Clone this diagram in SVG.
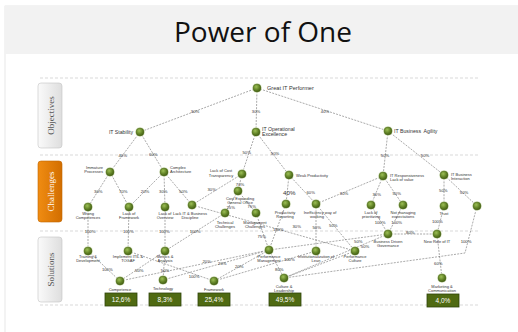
<svg xmlns="http://www.w3.org/2000/svg" width="518" height="332" viewBox="0 0 518 332">
  <defs>
    <radialGradient id="ball" cx="0.4" cy="0.35" r="0.7">
      <stop offset="0" stop-color="#9cbf55"/>
      <stop offset="0.6" stop-color="#5e7f24"/>
      <stop offset="1" stop-color="#3f5a12"/>
    </radialGradient>
    <linearGradient id="tabGray" x1="0" y1="0" x2="1" y2="0">
      <stop offset="0" stop-color="#fafafa"/>
      <stop offset="1" stop-color="#dedede"/>
    </linearGradient>
    <linearGradient id="tabOrange" x1="0" y1="0" x2="1" y2="0">
      <stop offset="0" stop-color="#f08c12"/>
      <stop offset="1" stop-color="#d26e00"/>
    </linearGradient>
    <g id="node">
      <circle r="5" fill="#dfe8cc" opacity="0.8"/>
      <circle r="4" fill="url(#ball)" stroke="#4a6516" stroke-width="0.4"/>
    </g>
  </defs>
  <style>
    .title { font-family: "Open Sans", "Liberation Sans", sans-serif; font-size: 28px; fill: #111; }
    .sep { stroke: #cfcfcf; stroke-width: 0.8; stroke-dasharray: 3 2; fill: none; }
    .tab { stroke: #c4c4c4; stroke-width: 0.6; }
    .tabtxt { font-family: "Liberation Serif", serif; font-size: 9px; fill: #555; }
    .c { stroke: #707070; stroke-width: 0.6; stroke-dasharray: 2 1.2; fill: none; }
    .lbl { font-family: "Liberation Sans", Arial, sans-serif; font-size: 4px; fill: #333; }
    .lbl5 { font-family: "Liberation Sans", Arial, sans-serif; font-size: 5.2px; fill: #333; }
    .el { font-family: "Liberation Sans", Arial, sans-serif; font-size: 4.2px; fill: #333; text-anchor: middle; }
    .mid { text-anchor: middle; }
    .end { text-anchor: end; }
    .box { fill: #4f6a12; stroke: #2f440a; stroke-width: 0.8; }
    .boxtxt { font-family: "Liberation Sans", Arial, sans-serif; font-size: 6.5px; fill: #ffffff; text-anchor: middle; }
  </style>

  <!-- slide frame and title band -->
  <rect x="5" y="6" width="520" height="330" fill="#ffffff" stroke="#e2e2e2" stroke-width="0.8"/>
  <rect x="5" y="6" width="520" height="48" fill="#f2f2f2"/>
  <text class="title" x="263" y="41.5" text-anchor="middle">Power of One</text>

  <!-- level separators -->
  <g id="separators">
    <line class="sep" x1="40" y1="78" x2="480" y2="78"/>
    <line class="sep" x1="40" y1="155" x2="480" y2="155"/>
    <line class="sep" x1="40" y1="231" x2="480" y2="231"/>
    <line class="sep" x1="40" y1="305" x2="480" y2="305"/>
  </g>

  <!-- level tabs -->
  <g id="tab-objectives">
    <rect class="tab" x="38" y="83" width="24" height="65" rx="3" fill="url(#tabGray)"/>
    <text class="tabtxt" transform="translate(53.5 115.5) rotate(-90)" text-anchor="middle">Objectives</text>
  </g>
  <g id="tab-challenges">
    <rect x="38" y="161" width="24" height="61" rx="3" fill="url(#tabOrange)" stroke="#c06400" stroke-width="0.6"/>
    <text class="tabtxt" transform="translate(53.5 191.5) rotate(-90)" text-anchor="middle" style="fill:#ffffff">Challenges</text>
  </g>
  <g id="tab-solutions">
    <rect class="tab" x="38" y="237" width="24" height="65" rx="3" fill="url(#tabGray)"/>
    <text class="tabtxt" transform="translate(53.5 269.5) rotate(-90)" text-anchor="middle">Solutions</text>
  </g>

  <!-- connectors -->
  <g id="connectors">
    <path class="c" d="M257 88 L140 132"/>
    <path class="c" d="M257 88 L256 132"/>
    <path class="c" d="M257 88 L388 131"/>
    <path class="c" d="M140 132 L110 172"/>
    <path class="c" d="M140 132 L164 172"/>
    <path class="c" d="M256 132 L242 174"/>
    <path class="c" d="M256 132 L289 175"/>
    <path class="c" d="M388 131 L383 176"/>
    <path class="c" d="M388 131 L444 175"/>
    <path class="c" d="M110 172 L88 207"/>
    <path class="c" d="M110 172 L129 207"/>
    <path class="c" d="M164 172 L129 207"/>
    <path class="c" d="M164 172 L165 207"/>
    <path class="c" d="M164 172 L192 205"/>
    <path class="c" d="M242 174 L192 205"/>
    <path class="c" d="M242 174 L238 191"/>
    <path class="c" d="M238 191 L225 213"/>
    <path class="c" d="M238 191 L256 213"/>
    <path class="c" d="M289 175 L286 204"/>
    <path class="c" d="M289 175 L316 204"/>
    <path class="c" d="M383 176 L316 204"/>
    <path class="c" d="M383 176 L371 205"/>
    <path class="c" d="M383 176 L403 205"/>
    <path class="c" d="M444 175 L444 206"/>
    <path class="c" d="M444 175 L477 206"/>
    <path class="c" d="M88 207 L88 251"/>
    <path class="c" d="M129 207 L128 251"/>
    <path class="c" d="M165 207 L165 251"/>
    <path class="c" d="M225 213 L165 251"/>
    <path class="c" d="M192 205 L355 251"/>
    <path class="c" d="M256 213 L269 250"/>
    <path class="c" d="M286 204 L269 250"/>
    <path class="c" d="M316 204 L316 251"/>
    <path class="c" d="M316 204 L355 251"/>
    <path class="c" d="M371 205 L388 234"/>
    <path class="c" d="M403 205 L388 234"/>
    <path class="c" d="M444 206 L437 234"/>
    <path class="c" d="M388 234 L437 234"/>
    <path class="c" d="M269 250 L388 234"/>
    <path class="c" d="M388 234 L284 278"/>
    <path class="c" d="M477 206 L465 253 L284 278"/>
    <path class="c" d="M437 234 L442 278"/>
    <path class="c" d="M88 251 L120 281"/>
    <path class="c" d="M165 251 L120 281"/>
    <path class="c" d="M165 251 L163 280"/>
    <path class="c" d="M128 251 L214 281"/>
    <path class="c" d="M269 250 L120 281"/>
    <path class="c" d="M269 250 L163 280"/>
    <path class="c" d="M269 250 L214 281"/>
    <path class="c" d="M214 281 L316 251"/>
    <path class="c" d="M269 250 L284 278"/>
    <path class="c" d="M355 251 L284 278"/>
  </g>

  <!-- connector weights -->
  <g id="weights">
    <text class="el" x="195" y="113">30%</text>
    <text class="el" x="256" y="112.5">30%</text>
    <text class="el" x="325" y="113">40%</text>
    <text class="el" x="122.7" y="156.5">40%</text>
    <text class="el" x="153.3" y="155.8">60%</text>
    <text class="el" x="246.7" y="153.8">50%</text>
    <text class="el" x="275" y="155.2">50%</text>
    <text class="el" x="385" y="157.2">50%</text>
    <text class="el" x="425" y="157.2">50%</text>
    <text class="el" x="98.3" y="193.2">30%</text>
    <text class="el" x="123.3" y="193.2">70%</text>
    <text class="el" x="145" y="193.2">20%</text>
    <text class="el" x="163.3" y="193.2">30%</text>
    <text class="el" x="183.3" y="193.2">50%</text>
    <text class="el" x="211.7" y="190.8">30%</text>
    <text class="el" x="240" y="185.5">70%</text>
    <text class="el" x="230.7" y="208.8">25%</text>
    <text class="el" x="251.7" y="208.2">75%</text>
    <text class="el" x="289.3" y="194.5" style="font-size:6.2px">40%</text>
    <text class="el" x="310.7" y="193.8">60%</text>
    <text class="el" x="344" y="194.8">30%</text>
    <text class="el" x="376.7" y="195.5">30%</text>
    <text class="el" x="396.7" y="194.8">50%</text>
    <text class="el" x="443.3" y="192.2">50%</text>
    <text class="el" x="464" y="193.8">50%</text>
    <text class="el" x="90" y="233.2">100%</text>
    <text class="el" x="128.3" y="233">100%</text>
    <text class="el" x="164.3" y="233">100%</text>
    <text class="el" x="195" y="233">100%</text>
    <text class="el" x="261.7" y="237.8">75%</text>
    <text class="el" x="278.3" y="231.2">100%</text>
    <text class="el" x="296.7" y="227.8">30%</text>
    <text class="el" x="316.7" y="228.8">50%</text>
    <text class="el" x="333.3" y="227.2">50%</text>
    <text class="el" x="380" y="224.2">100%</text>
    <text class="el" x="396.7" y="223.5">100%</text>
    <text class="el" x="437.3" y="223.2">100%</text>
    <text class="el" x="410.3" y="234">80%</text>
    <text class="el" x="358.3" y="242.8">50%</text>
    <text class="el" x="365" y="247.8">50%</text>
    <text class="el" x="466" y="243.2">100%</text>
    <text class="el" x="438.3" y="264.8">60%</text>
    <text class="el" x="107.3" y="270.8">100%</text>
    <text class="el" x="139.3" y="272.2">50%</text>
    <text class="el" x="165" y="272.2">50%</text>
    <text class="el" x="194" y="277.5">100%</text>
    <text class="el" x="206.7" y="263.2">20%</text>
    <text class="el" x="222.3" y="264.8">20%</text>
    <text class="el" x="239.3" y="268.2">20%</text>
    <text class="el" x="289.3" y="260.8">100%</text>
    <text class="el" x="279.3" y="270.8">80%</text>
  </g>

  <!-- objectives -->
  <g id="n-great"><use href="#node" x="257" y="88"/><text class="lbl5" x="267" y="90" style="font-size:5.6px">Great IT Performer</text></g>
  <g id="n-stability"><use href="#node" x="140" y="132"/><text class="lbl5 end" x="133" y="134">IT Stability</text></g>
  <g id="n-opex"><use href="#node" x="256" y="132"/><text class="lbl5" x="262" y="130.5">IT Operational</text><text class="lbl5" x="262" y="136">Excellence</text></g>
  <g id="n-agility"><use href="#node" x="388" y="131"/><text class="lbl5" x="394" y="133" xml:space="preserve">IT Business  Agility</text></g>

  <!-- challenges, first tier -->
  <g id="n-immature"><use href="#node" x="110" y="172"/><text class="lbl end" x="103" y="168.8">Immature</text><text class="lbl end" x="103" y="172.8">Processes</text></g>
  <g id="n-complex"><use href="#node" x="164" y="172"/><text class="lbl" x="170" y="168.8">Complex</text><text class="lbl" x="170" y="172.8">Architecture</text></g>
  <g id="n-costtransp"><use href="#node" x="242" y="174"/><text class="lbl mid" x="221" y="172.3">Lack of Cost</text><text class="lbl mid" x="221" y="176.5">Transparency</text></g>
  <g id="n-weakprod"><use href="#node" x="289" y="175"/><text class="lbl" x="296" y="176.5">Weak Productivity</text></g>
  <g id="n-itresp"><use href="#node" x="383" y="176"/><text class="lbl" x="390" y="176.5">IT Responsiveness</text><text class="lbl" x="390" y="180.5">Lack of value</text></g>
  <g id="n-itbi"><use href="#node" x="444" y="175"/><text class="lbl" x="451" y="176.3">IT Business</text><text class="lbl" x="451" y="180.3">Interaction</text></g>

  <!-- challenges, second tier -->
  <g id="n-wrongcomp"><use href="#node" x="88" y="207"/><text class="lbl mid" x="88" y="214.6">Wrong</text><text class="lbl mid" x="88" y="218.6">Competences</text></g>
  <g id="n-lackfw"><use href="#node" x="129" y="207"/><text class="lbl mid" x="129" y="214.6">Lack of</text><text class="lbl mid" x="129" y="218.6">Framework</text></g>
  <g id="n-lackov"><use href="#node" x="165" y="207"/><text class="lbl mid" x="165" y="214.6">Lack of</text><text class="lbl mid" x="165" y="218.6">Overview</text></g>
  <g id="n-lackdisc"><use href="#node" x="192" y="205"/><text class="lbl mid" x="190" y="214.6">Lack IT &amp; Business</text><text class="lbl mid" x="190" y="218.6">Discipline</text></g>
  <g id="n-costexp"><use href="#node" x="238" y="191"/><text class="lbl mid" x="240" y="199.5">Cost Expanding</text><text class="lbl mid" x="240" y="203.5">General Office</text></g>
  <g id="n-techch"><use href="#node" x="225" y="213"/><text class="lbl mid" x="225" y="223.5">Technical</text><text class="lbl mid" x="225" y="227.5">Challenges</text></g>
  <g id="n-mgmtch"><use href="#node" x="256" y="213"/><text class="lbl mid" x="255" y="223.5">Management</text><text class="lbl mid" x="255" y="227.5">Challenges</text></g>
  <g id="n-prodrep"><use href="#node" x="286" y="204"/><text class="lbl mid" x="285" y="214.3">Productivity</text><text class="lbl mid" x="285" y="218.3">Reporting</text></g>
  <g id="n-ineff"><use href="#node" x="316" y="204"/><text class="lbl mid" x="320" y="214.3">Inefficiency way of</text><text class="lbl mid" x="317" y="218.3">working</text></g>
  <g id="n-prio"><use href="#node" x="371" y="205"/><text class="lbl mid" x="371" y="214.3">Lack of</text><text class="lbl mid" x="371" y="218.3">prioritizing</text></g>
  <g id="n-expect"><use href="#node" x="403" y="205"/><text class="lbl mid" x="403" y="214.3">Not managing</text><text class="lbl mid" x="403" y="218.3">expectations</text></g>
  <g id="n-trust"><use href="#node" x="444" y="206"/><text class="lbl mid" x="444" y="214.6">Trust</text></g>
  <g id="n-interact2"><use href="#node" x="477" y="206"/></g>

  <!-- solutions -->
  <g id="n-training"><use href="#node" x="88" y="251"/><text class="lbl mid" x="88" y="257.5">Training &amp;</text><text class="lbl mid" x="88" y="261.5">Development</text></g>
  <g id="n-itil"><use href="#node" x="128" y="251"/><text class="lbl mid" x="128" y="257.5">Implement ITIL &amp;</text><text class="lbl mid" x="128" y="261.5">TOGAF</text></g>
  <g id="n-metrics"><use href="#node" x="165" y="251"/><text class="lbl mid" x="165" y="257.5">Metrics &amp;</text><text class="lbl mid" x="165" y="261.5">Analysis</text></g>
  <g id="n-perfmgmt"><use href="#node" x="269" y="250"/><text class="lbl mid" x="269" y="258">Performance</text><text class="lbl mid" x="269" y="262">Management</text></g>
  <g id="n-lean"><use href="#node" x="316" y="251"/><text class="lbl mid" x="316" y="258">Institutionalization of</text><text class="lbl mid" x="316" y="262">Lean</text></g>
  <g id="n-perfcult"><use href="#node" x="355" y="251"/><text class="lbl mid" x="355" y="258">Performance</text><text class="lbl mid" x="355" y="262">Culture</text></g>
  <g id="n-bdg"><use href="#node" x="388" y="234"/><text class="lbl mid" x="388" y="242.5">Business Driven</text><text class="lbl mid" x="388" y="246.5">Governance</text></g>
  <g id="n-newrole"><use href="#node" x="437" y="234"/><text class="lbl mid" x="437" y="243">New Role of IT</text></g>

  <!-- results -->
  <g id="n-competence"><use href="#node" x="120" y="281"/><text class="lbl mid" x="120" y="291">Competence</text></g>
  <g id="n-technology"><use href="#node" x="163" y="280"/><text class="lbl mid" x="163" y="290">Technology</text></g>
  <g id="n-framework"><use href="#node" x="214" y="281"/><text class="lbl mid" x="214" y="291">Framework</text></g>
  <g id="n-culture"><use href="#node" x="284" y="278"/><text class="lbl mid" x="284" y="288">Culture &amp;</text><text class="lbl mid" x="284" y="292">Leadership</text></g>
  <g id="n-marketing"><use href="#node" x="442" y="278"/><text class="lbl mid" x="442" y="288">Marketing &amp;</text><text class="lbl mid" x="442" y="292">Communication</text></g>

  <!-- result shares -->
  <g id="share-competence"><rect class="box" x="105" y="293" width="32" height="13"/><text class="boxtxt" x="121" y="302">12,6%</text></g>
  <g id="share-technology"><rect class="box" x="149" y="293" width="32" height="13"/><text class="boxtxt" x="165" y="302">8,3%</text></g>
  <g id="share-framework"><rect class="box" x="198" y="293" width="32" height="13"/><text class="boxtxt" x="214" y="302">25,4%</text></g>
  <g id="share-culture"><rect class="box" x="269" y="293" width="32" height="13"/><text class="boxtxt" x="285" y="302">49,5%</text></g>
  <g id="share-marketing"><rect class="box" x="427" y="294" width="32" height="13"/><text class="boxtxt" x="443" y="303">4,0%</text></g>
</svg>
